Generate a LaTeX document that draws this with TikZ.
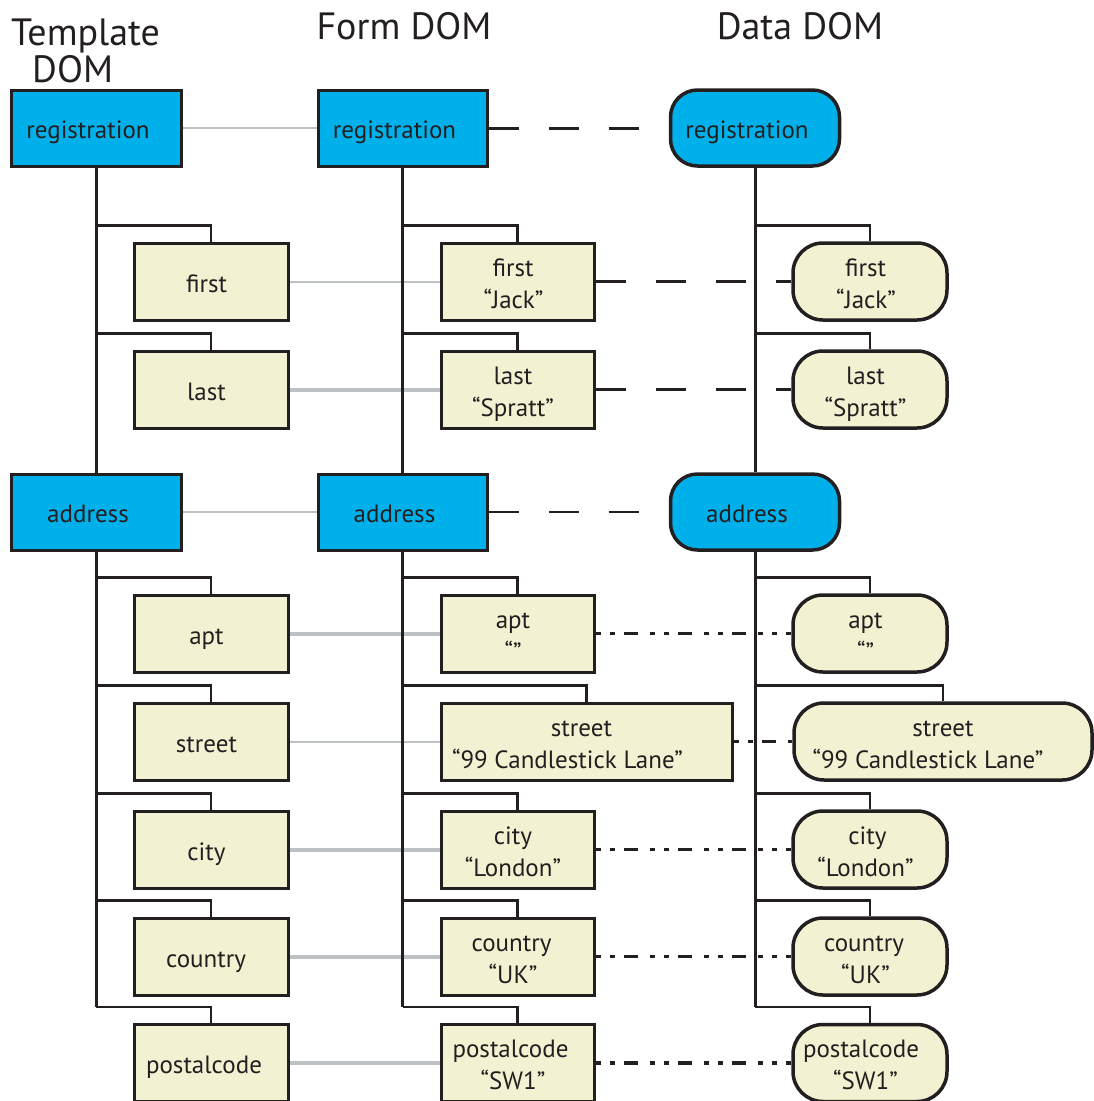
\documentclass[tikz,border=0pt]{standalone}
\usepackage{fontspec}
\setmainfont{PT Sans}
\usetikzlibrary{backgrounds}
\definecolor{cyanbox}{HTML}{00B0EA}
\definecolor{cream}{HTML}{F2F1D2}
\definecolor{ink}{HTML}{231F20}
\definecolor{linkgray}{HTML}{BCC1C4}
\newcommand\branchto[3]{\draw[branchline] (#1.north) -- ++(0,-16) coordinate (#3) -- (#3 -| #2.south);}
% struts giving every label the same baseline position
\newcommand\tp{\rule{0pt}{28pt}}
\newcommand\bt{\rule[-7pt]{0pt}{7pt}}
% one-line label shifted left by #1/2
\newcommand\one[2]{\hspace*{-#1pt}\tp\bt #2}
% two-line label, each line shifted left by its own amount
\newcommand\two[4]{\hspace*{-#1pt}\tp #2\\\hspace*{-#3pt}#4\bt}
\begin{document}
\begin{tikzpicture}[x=1pt,y=-1pt,
  every node/.style={font=\fontsize{25}{32}\selectfont, text=ink, inner sep=0pt, align=center},
  boxbase/.style={draw=ink, line width=3pt, minimum height=77pt},
  parentbox/.style={boxbase, fill=cyanbox, minimum width=170pt, minimum height=76pt},
  childbox/.style={boxbase, fill=cream, minimum width=154pt},
  datapar/.style={parentbox, rounded corners=27pt, line width=3.5pt},
  datachild/.style={childbox, rounded corners=30pt, line width=3.5pt},
  trunkline/.style={draw=ink, line width=3pt},
  branchline/.style={draw=ink, line width=2.5pt, line join=miter},
  graythin/.style={draw=linkgray, line width=2pt},
  graythick/.style={draw=linkgray, line width=4pt},
  dashlink/.style={draw=ink, line width=3pt, dash pattern=on 30pt off 30pt},
  dotlink/.style={draw=ink, line width=3.5pt, dash pattern=on 5pt off 9pt on 5pt off 9pt on 14pt off 12pt},
  header/.style={font=\fontsize{38}{42}\selectfont}
]
\useasboundingbox (0,0) rectangle (1094,1101);

% headers
\node[header, anchor=base west] (hT1) at (11,45) {Template};
\node[header, anchor=base west] (hT2) at (32,82) {DOM};
\node[header, anchor=base] (hF) at (404,39) {Form DOM};
\node[header, anchor=base] (hD) at (800,39) {Data DOM};

% Template DOM
\node[parentbox] (Treg) at (96,128) {\one{16}{registration}};
\node[childbox] (Tfirst) at (211,281.5) {\one{9}{first}};
\node[childbox] (Tlast) at (211,389.5) {\one{9}{last}};
\node[parentbox] (Taddr) at (96,512) {\one{16}{address}};
\node[childbox] (Tapt) at (211,633.5) {\one{9}{apt}};
\node[childbox] (Tstreet) at (211,741.5) {\one{9}{street}};
\node[childbox] (Tcity) at (211,849.5) {\one{9}{city}};
\node[childbox] (Tcountry) at (211,956.5) {\one{10}{country}};
\node[childbox] (Tpost) at (211,1063) {\one{14}{postalcode}};

% Form DOM
\node[parentbox, minimum width=169pt] (Freg) at (402.5,128) {\one{16}{registration}};
\node[childbox, minimum width=153pt] (Ffirst) at (517.5,281.5) {\two{9}{first}{8}{“Jack”}};
\node[childbox, minimum width=153pt] (Flast) at (517.5,389.5) {\two{9}{last}{9}{“Spratt”}};
\node[parentbox, minimum width=169pt] (Faddr) at (402.5,512) {\one{16}{address}};
\node[childbox, minimum width=153pt] (Fapt) at (517.5,633.5) {\two{9}{apt}{9}{“”}};
\node[childbox, minimum width=291pt] (Fstreet) at (586.5,741.5) {\two{10}{street}{38}{“99 Candlestick Lane”}};
\node[childbox, minimum width=153pt] (Fcity) at (517.5,849.5) {\two{9}{city}{9}{“London”}};
\node[childbox, minimum width=153pt] (Fcountry) at (517.5,956.5) {\two{12}{country}{9}{“UK”}};
\node[childbox, minimum width=153pt] (Fpost) at (517.5,1063) {\two{14}{postalcode}{9}{“SW1”}};

% Data DOM
\node[datapar, minimum width=169pt] (Dreg) at (755,128) {\one{16}{registration}};
\node[datachild] (Dfirst) at (870,281.5) {\two{9}{first}{8}{“Jack”}};
\node[datachild] (Dlast) at (870,389.5) {\two{9}{last}{9}{“Spratt”}};
\node[datapar, minimum width=169pt] (Daddr) at (755,512) {\one{16}{address}};
\node[datachild] (Dapt) at (870,633.5) {\two{9}{apt}{9}{“”}};
\node[datachild, minimum width=298pt] (Dstreet) at (943,741.5) {\two{0}{street}{30}{“99 Candlestick Lane”}};
\node[datachild] (Dcity) at (870,849.5) {\two{5}{city}{9}{“London”}};
\node[datachild] (Dcountry) at (870,956.5) {\two{12}{country}{9}{“UK”}};
\node[datachild] (Dpost) at (870,1063) {\two{18}{postalcode}{9}{“SW1”}};

\begin{pgfonlayer}{background}
% template -> form links
\draw[graythin] (Treg.east) -- (Freg.west);
\draw[graythin] (Tfirst.east) -- (Ffirst.west);
\draw[graythick] (Tlast.east) -- (Flast.west);
\draw[graythin] (Taddr.east) -- (Faddr.west);
\draw[graythick] (Tapt.east) -- (Fapt.west);
\draw[graythin] (Tstreet.east) -- (Fstreet.west);
\draw[graythick] (Tcity.east) -- (Fcity.west);
\draw[graythick] (Tcountry.east) -- (Fcountry.west);
\draw[graythick] (Tpost.east) -- (Fpost.west);
% form -> data links
\draw[dashlink] (Freg.east) -- (Dreg.west);
\draw[dashlink, line width=2.5pt] (Ffirst.east) -- (Dfirst.west);
\draw[dashlink, line width=3.5pt] (Flast.east) -- (Dlast.west);
\draw[dashlink, line width=2.5pt] (Faddr.east) -- (Daddr.west);
\draw[dotlink] (Fapt.east) -- (Dapt.west);
\draw[dotlink] (Fstreet.east) -- (Dstreet.west);
\draw[dotlink] (Fcity.east) -- (Dcity.west);
\draw[dotlink] (Fcountry.east) -- (Dcountry.west);
\draw[dotlink] (Fpost.east) -- (Dpost.west);
% branches
\branchto{Tfirst}{Treg}{tb1}
\branchto{Tlast}{Treg}{tb2}
\branchto{Tapt}{Taddr}{tb3}
\branchto{Tstreet}{Taddr}{tb4}
\branchto{Tcity}{Taddr}{tb5}
\branchto{Tcountry}{Taddr}{tb6}
\branchto{Tpost}{Taddr}{tb7}
\branchto{Ffirst}{Freg}{fb1}
\branchto{Flast}{Freg}{fb2}
\branchto{Fapt}{Faddr}{fb3}
\branchto{Fstreet}{Faddr}{fb4}
\branchto{Fcity}{Faddr}{fb5}
\branchto{Fcountry}{Faddr}{fb6}
\branchto{Fpost}{Faddr}{fb7}
\branchto{Dfirst}{Dreg}{db1}
\branchto{Dlast}{Dreg}{db2}
\branchto{Dapt}{Daddr}{db3}
\branchto{Dstreet}{Daddr}{db4}
\branchto{Dcity}{Daddr}{db5}
\branchto{Dcountry}{Daddr}{db6}
\branchto{Dpost}{Daddr}{db7}
% trunks
\draw[trunkline] (Treg.south) -- (Taddr.north);
\draw[trunkline] (Taddr.south) -- (tb7 -| Taddr.south);
\draw[trunkline] (Freg.south) -- (Faddr.north);
\draw[trunkline] (Faddr.south) -- (fb7 -| Faddr.south);
\draw[trunkline] (Dreg.south) -- (Daddr.north);
\draw[trunkline] (Daddr.south) -- (db7 -| Daddr.south);
\end{pgfonlayer}
\end{tikzpicture}
\end{document}
